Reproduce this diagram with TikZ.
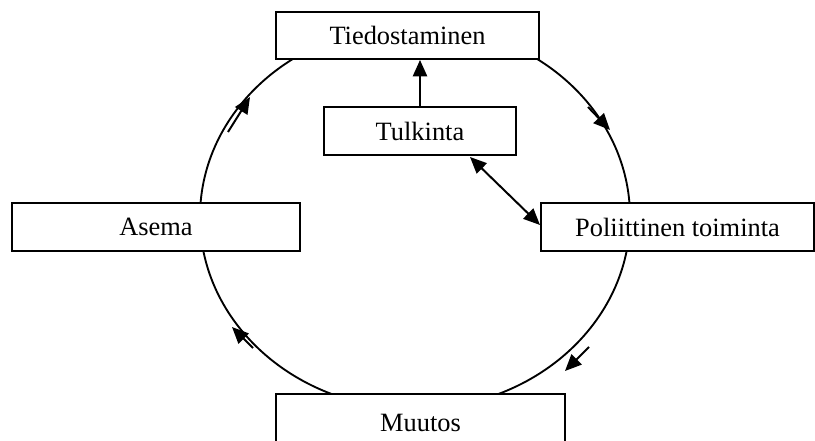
\documentclass[tikz,border=0pt]{standalone}
\usepackage{fontspec}
\setmainfont{Liberation Serif}
\usetikzlibrary{arrows.meta}
\begin{document}
\begin{tikzpicture}[x=0.4545pt,y=-0.4545pt,
  box/.style={draw,line width=0.9pt,fill=white,inner sep=0pt,font=\fontsize{12}{14}\selectfont},
  arr/.style={line width=0.9pt,-{Triangle[length=7.5pt,width=6.5pt]}},
  darr/.style={line width=0.9pt,{Triangle[length=7.5pt,width=6.5pt]}-{Triangle[length=7.5pt,width=6.5pt]}}]
\useasboundingbox (0,0) rectangle (815,441);
\draw[line width=0.85pt] (415,217) ellipse [x radius=97.72pt, y radius=87.26pt];
\node[box,minimum width=263*0.4545pt,minimum height=47*0.4545pt] (tied) at (407.5,35.5) {Tiedostaminen};
\node[box,minimum width=192*0.4545pt,minimum height=48*0.4545pt] (tulk) at (420,131) {Tulkinta};
\node[box,minimum width=288*0.4545pt,minimum height=48*0.4545pt] (asema) at (156,227) {Asema};
\node[box,minimum width=273*0.4545pt,minimum height=48*0.4545pt] (pol) at (677.5,227) {Poliittinen toiminta};
\node[box,minimum width=289*0.4545pt,minimum height=58*0.4545pt] (muutos) at (420.5,423) {Muutos};
\draw[arr] (tulk.north) -- (tulk.north |- tied.south);
\coordinate (d1) at (470,157);
\coordinate (d2) at (540,225);
\draw[darr] (d1) -- (d2);
\coordinate (a1s) at (228,132); \coordinate (a1e) at (250,97);
\coordinate (a2s) at (588,107); \coordinate (a2e) at (610,130);
\coordinate (a3s) at (589,347); \coordinate (a3e) at (565,371);
\coordinate (a4s) at (253,348); \coordinate (a4e) at (232,327);
\draw[arr] (a1s) -- (a1e);
\draw[arr] (a2s) -- (a2e);
\draw[arr] (a3s) -- (a3e);
\draw[arr] (a4s) -- (a4e);
\end{tikzpicture}
\end{document}
